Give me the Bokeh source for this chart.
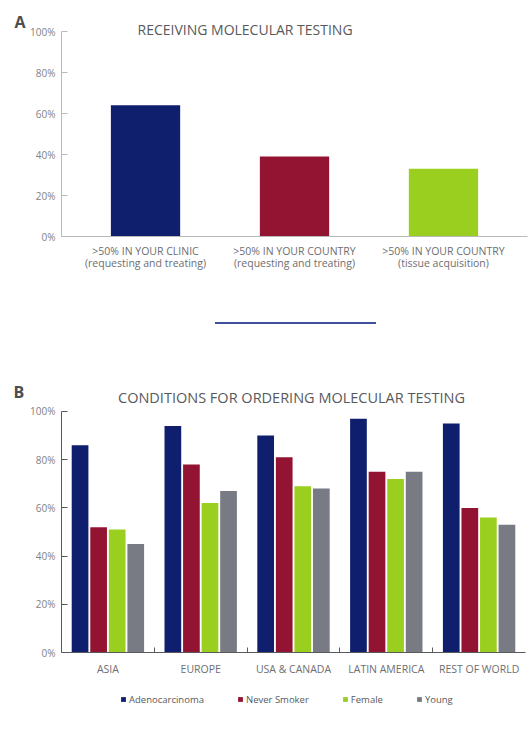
from bokeh.plotting import figure
from bokeh.models import (ColumnDataSource, FactorRange, Range1d, Label, Legend, LegendItem,
                          LinearAxis, CategoricalAxis, FixedTicker, Div, Title)
from bokeh.layouts import column
from bokeh.transform import dodge
from bokeh.embed import file_html
from bokeh.resources import INLINE

# ---------------- data ----------------
a_categories = [">50% IN YOUR CLINIC\n(requesting and treating)",
                ">50% IN YOUR COUNTRY\n(requesting and treating)",
                ">50% IN YOUR COUNTRY\n(tissue acquisition)"]
a_values = [64, 39, 33]

regions = ["ASIA", "EUROPE", "USA & CANADA", "LATIN AMERICA", "REST OF WORLD"]
adenocarcinoma = [86, 94, 90, 97, 95]
never_smoker = [52, 78, 81, 75, 60]
female = [51, 62, 69, 72, 56]
young = [45, 67, 68, 75, 53]
series_names = ["Adenocarcinoma", "Never Smoker", "Female", "Young"]

y_ticks = [0, 20, 40, 60, 80, 100]
y_tick_labels = ["0%", "20%", "40%", "60%", "80%", "100%"]

# ---------------- styles ----------------
FONT = "Open Sans"
NAVY = "#0f1e6d"
RED = "#931432"
GREEN = "#9bcf1f"
GREY = "#787b83"
a_colors = [NAVY, RED, GREEN]
b_colors = [NAVY, RED, GREEN, GREY]
TEXT = "#58595b"
TICK_TEXT = "#808285"


def style_y(p, line_color):
    ax = p.yaxis[0]
    ax.ticker = FixedTicker(ticks=y_ticks)
    ax.bounds = (0, 100)
    ax.major_label_overrides = dict(zip(y_ticks, y_tick_labels))
    ax.major_tick_in = 6
    ax.major_tick_out = 0
    ax.minor_tick_line_color = None
    ax.axis_line_color = line_color
    ax.major_tick_line_color = line_color
    ax.major_label_text_font = FONT
    ax.major_label_text_font_size = "10px"
    ax.major_label_text_color = TICK_TEXT
    ax.major_label_standoff = 6


# ---------------- Panel A ----------------
srcA = ColumnDataSource(dict(cat=a_categories, val=a_values, color=a_colors))
pA = figure(x_range=FactorRange(*a_categories, range_padding=0.064, range_padding_units="absolute"),
            y_range=Range1d(0, 104.4), frame_width=466, frame_height=214,
            min_border_left=60, min_border_right=4, min_border_top=22, min_border_bottom=62,
            output_backend="svg", toolbar_location=None)
pA.vbar(x="cat", top="val", width=0.465, color="color", line_color=None, source=srcA)
pA.grid.visible = False
pA.outline_line_color = None
style_y(pA, "#b9babc")
xa = pA.xaxis[0]
xa.axis_line_color = "#b9babc"
xa.major_tick_line_color = None
xa.major_label_text_font = FONT
xa.major_label_text_font_size = "10.5px"
xa.major_label_text_color = "#6d6e71"
xa.major_label_text_line_height = 0.9
xa.major_label_standoff = 1

pA.add_layout(Label(x=76, y=207.5, x_units="screen", y_units="screen",
                    text="RECEIVING MOLECULAR TESTING", text_font=FONT, text_font_size="14px",
                    text_color=TEXT, text_baseline="alphabetic", text_align="left"))
pA.add_layout(Title(text="A", align="left", offset=-47, standoff=-20, text_font=FONT,
                    text_font_size="16px", text_font_style="bold", text_color="#4d4d4f",
                    text_baseline="alphabetic"), "above")

# ---------------- divider ----------------
divider = Div(text='<div style="margin-left:215px;margin-top:24px;width:161px;height:2px;'
                   'background:#3e4f9c"></div>', width=530, height=40, margin=(0, 0, 0, 0))

# ---------------- Panel B ----------------
srcB = ColumnDataSource(dict(region=regions, adenocarcinoma=adenocarcinoma,
                             never_smoker=never_smoker, female=female, young=young))
pB = figure(x_range=FactorRange(*regions, range_padding=0), y_range=Range1d(0, 108.7),
            frame_width=464, frame_height=262, x_axis_location=None,
            min_border_left=61, min_border_right=5, min_border_top=52, min_border_bottom=30,
            output_backend="svg", toolbar_location=None)
pB.grid.visible = False
pB.outline_line_color = None
style_y(pB, "#58595b")

cols = ["adenocarcinoma", "never_smoker", "female", "young"]
offsets = [-0.3, -0.1, 0.1, 0.3]
for col, off, c in zip(cols, offsets, b_colors):
    pB.vbar(x=dodge("region", off, range=pB.x_range), top=col, width=0.18,
            color=c, line_color=None, source=srcB)

# separator ticks between region groups (synthetic factor coordinates 1..n-1)
sep_axis = LinearAxis(ticker=FixedTicker(ticks=[], minor_ticks=list(range(1, len(regions)))),
                      major_tick_line_color=None, minor_tick_in=5, minor_tick_out=0,
                      minor_tick_line_color="#58595b", major_label_standoff=0,
                      axis_line_color="#58595b")
pB.add_layout(sep_axis, "below")
cat_axis = CategoricalAxis(axis_line_color=None, major_tick_line_color=None,
                           major_label_text_font=FONT, major_label_text_font_size="10.5px",
                           major_label_text_color="#6d6e71", major_label_standoff=3)
pB.add_layout(cat_axis, "below")

pB.add_layout(Label(x=230, y=255, x_units="screen", y_units="screen",
                    text="CONDITIONS FOR ORDERING MOLECULAR TESTING", text_font=FONT,
                    text_font_size="14.5px", text_color=TEXT, text_baseline="alphabetic",
                    text_align="center"))
pB.add_layout(Title(text="B", align="left", offset=-48, standoff=-24, text_font=FONT,
                    text_font_size="16px", text_font_style="bold", text_color="#4d4d4f",
                    text_baseline="alphabetic"), "above")

# ---------------- legend strip for panel B ----------------
# same series renderers, hidden; only their legend swatches are shown
pL = figure(width=530, height=34, x_range=pB.x_range, y_range=Range1d(-1001, -1000),
            min_border=0, x_axis_location=None, y_axis_location=None,
            output_backend="svg", toolbar_location=None)
pL.grid.visible = False
pL.outline_line_color = None
items = []
for col, off, c, name in zip(cols, offsets, b_colors, series_names):
    swatch = pL.vbar(x=dodge("region", off, range=pB.x_range), top=col, width=0.18,
                     color=c, line_color=None, source=srcB, visible=False)
    items.append(LegendItem(label=name, renderers=[swatch]))
legend = Legend(items=items, orientation="horizontal", location=(59, 7), spacing=33,
                glyph_width=6, glyph_height=6, label_standoff=3, label_height=20,
                label_text_font=FONT, label_text_font_size="9.5px", label_text_color=TEXT,
                inactive_fill_alpha=0, border_line_color=None, background_fill_alpha=0,
                padding=0, margin=0)
pL.add_layout(legend, "center")

layout = column(pA, divider, pB, pL, spacing=0)
open("out.html", "w").write(file_html(layout, INLINE))
